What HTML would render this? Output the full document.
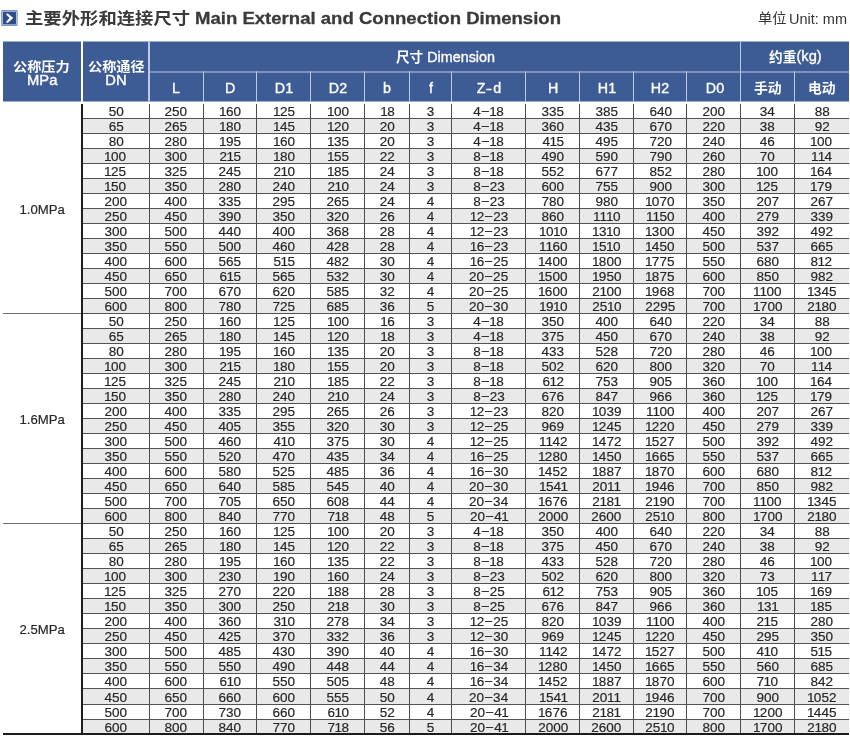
<!DOCTYPE html><html lang="zh"><head><meta charset="utf-8"><title>主要外形和连接尺寸 Main External and Connection Dimension</title>
<style>
html,body{margin:0;padding:0;background:#fff;}
body{will-change:transform;width:850px;height:745px;position:relative;overflow:hidden;font-family:"Liberation Sans",sans-serif;color:#262626;}
.cjk{position:absolute;display:block;overflow:visible;}
.cjk text{font-family:"Liberation Sans","Noto Sans CJK SC",sans-serif;}
.sx{display:inline-block;transform-origin:50% 50%;white-space:nowrap;}
/* title */
.icon{position:absolute;left:1px;top:10px;width:17px;height:16px;}
.ttl{position:absolute;left:195.2px;top:8.2px;height:20px;line-height:20px;font-size:17.4px;font-weight:bold;color:#3a3a3a;-webkit-text-stroke:.3px #3a3a3a;white-space:nowrap;transform-origin:0 50%;transform:scaleX(1.067);}
.unit{position:absolute;left:789.3px;top:9.6px;height:18px;line-height:18px;font-size:14px;color:#333;white-space:nowrap;transform-origin:0 50%;transform:scaleX(1.035);}
/* header */
.hd{position:absolute;left:0;top:0;width:850px;height:102px;transform:translateY(.5px);}
.hc{position:absolute;background:#3d5b94;color:#fff;text-align:center;font-size:14px;white-space:nowrap;}
.hc .sx{transform:scaleX(1.07);}
.hline{position:absolute;background:#bccae6;}
/* body table */
table.bd{position:absolute;left:3px;top:104px;border-collapse:collapse;table-layout:fixed;width:846px;border-bottom:2px solid #1c1c1c;}
table.bd td{height:14px;padding:0;border-bottom:1px solid #525252;border-left:1px solid #4c4c4c;text-align:center;font-size:12.9px;-webkit-text-stroke:.18px #262626;line-height:14px;overflow:hidden;white-space:nowrap;}
table.bd tr:nth-child(40) td{height:15px;line-height:15px}
table.bd tr:last-child td{border-bottom:none;height:13px;line-height:13px}
table.bd tr.g td{background:#e9e9ea;}
table.bd td.p{background:#fff !important;border-left:none;font-size:12.9px;border-bottom-color:#707070;}
table.bd td.dn{border-left:2px solid #1e1e1e;}
table.bd td .sx{transform:scaleX(1.05);position:relative;top:.6px;}
table.bd td.p .sx{transform:scaleX(1.02);top:1.3px;left:.2px}
table.bd i{font-style:normal;margin:0 -.55px 0 -.4px;}
.d{display:inline-block;transform:scaleX(.95);margin:0 .7px 0 .7px;position:relative;top:-.7px;}
table.bd td.c2 .sx{left:0.3px}
table.bd td.c3 .sx{left:1.15px}
table.bd td.c4 .sx{left:0.9px}
table.bd td.c5 .sx{left:1.1px}
table.bd td.c6 .sx{left:1.05px}
table.bd td.c7 .sx{left:0.8px}
table.bd td.c8 .sx{left:1.05px}
table.bd td.c9 .sx{left:0.75px}
table.bd td.c10 .sx{left:0.8px}
table.bd td.c11 .sx{left:0.6px}
table.bd td.c12 .sx{left:0.4px}
</style></head><body>
<svg class="icon" viewBox="0 0 17 16" role="img" aria-label="arrow"><rect x="0.2" y="0.1" width="16.4" height="15.9" rx="1.3" fill="#6a85b9"/><rect x="0.9" y="0.8" width="15" height="14.5" rx="0.8" fill="#b3c4e5"/><rect x="1.9" y="1.8" width="13.1" height="12.5" fill="#2c4c8e"/><path d="M4.9 4.3L6.6 3.3L12.3 8.1L6.6 13L4.9 12L8.6 8.1Z" fill="#fff"/></svg>
<svg class="cjk " role="img" aria-label="主要外形和连接尺寸" style="left:24.9px;top:9.8px" width="165.2" height="16.2" viewBox="0 -880 9000 1000" preserveAspectRatio="none"><title>主要外形和连接尺寸</title><text x="0" y="0" font-size="1000" font-weight="bold" fill="#3a3a3a" textLength="9000" lengthAdjust="spacingAndGlyphs">主要外形和连接尺寸</text></svg>
<div class="ttl">Main External and Connection Dimension</div>
<svg class="cjk " role="img" aria-label="单位" style="left:757.7px;top:10.7px" width="28.6" height="13.7" viewBox="0 -880 2000 1000" preserveAspectRatio="none"><title>单位</title><text x="0" y="0" font-size="1000" fill="#333" textLength="2000" lengthAdjust="spacingAndGlyphs">单位</text></svg>
<div class="unit">Unit: mm</div>
<div class="hd">
<div class="hc" style="left:3px;top:41px;width:78px;height:60px"></div>
<div class="hc" style="left:83px;top:41px;width:765.6px;height:60px"></div>
<div class="hline" style="left:148px;top:41px;width:2px;height:60px"></div>
<div class="hline" style="left:149px;top:71px;width:699.6px;height:1px"></div>
<div class="hline" style="left:203px;top:71px;width:1px;height:30px"></div>
<div class="hline" style="left:256px;top:71px;width:1px;height:30px"></div>
<div class="hline" style="left:310px;top:71px;width:1px;height:30px"></div>
<div class="hline" style="left:364px;top:71px;width:1px;height:30px"></div>
<div class="hline" style="left:409px;top:71px;width:1px;height:30px"></div>
<div class="hline" style="left:451px;top:71px;width:1px;height:30px"></div>
<div class="hline" style="left:525px;top:71px;width:1px;height:30px"></div>
<div class="hline" style="left:579px;top:71px;width:1px;height:30px"></div>
<div class="hline" style="left:633px;top:71px;width:1px;height:30px"></div>
<div class="hline" style="left:686px;top:71px;width:1px;height:30px"></div>
<div class="hline" style="left:740px;top:41px;width:1px;height:60px"></div>
<div class="hline" style="left:794px;top:71px;width:1px;height:30px"></div>
<svg class="cjk " role="img" aria-label="公称压力" style="left:13.3px;top:58.9px" width="56.6" height="12.8" viewBox="0 -880 4000 1000" preserveAspectRatio="none"><title>公称压力</title><text x="0" y="0" font-size="1000" font-weight="bold" fill="#fff" textLength="4000" lengthAdjust="spacingAndGlyphs">公称压力</text></svg>
<div class="hl" style="position:absolute;left:-17.9px;width:120px;top:70.0px;height:20px;line-height:20px;text-align:center;color:#fff;font-size:13.8px;white-space:nowrap;-webkit-text-stroke:.35px #fff"><span class="sx" style="transform:scaleX(1.07)">MPa</span></div>
<svg class="cjk " role="img" aria-label="公称通径" style="left:87.9px;top:58.9px" width="56.6" height="12.8" viewBox="0 -880 4000 1000" preserveAspectRatio="none"><title>公称通径</title><text x="0" y="0" font-size="1000" font-weight="bold" fill="#fff" textLength="4000" lengthAdjust="spacingAndGlyphs">公称通径</text></svg>
<div class="hl" style="position:absolute;left:56.099999999999994px;width:120px;top:70.0px;height:20px;line-height:20px;text-align:center;color:#fff;font-size:13.8px;white-space:nowrap;-webkit-text-stroke:.35px #fff"><span class="sx" style="transform:scaleX(1.07)">DN</span></div>
<svg class="cjk " role="img" aria-label="尺寸" style="left:396.2px;top:49.7px" width="27.2" height="13.2" viewBox="0 -880 2000 1000" preserveAspectRatio="none"><title>尺寸</title><text x="0" y="0" font-size="1000" font-weight="bold" fill="#fff" textLength="2000" lengthAdjust="spacingAndGlyphs">尺寸</text></svg>
<div class="hl" style="position:absolute;left:400.7px;width:120px;top:46.3px;height:20px;line-height:20px;text-align:center;color:#fff;font-size:14px;white-space:nowrap;-webkit-text-stroke:.35px #fff"><span class="sx" style="transform:scaleX(1.025)">Dimension</span></div>
<svg class="cjk " role="img" aria-label="约重" style="left:768.8px;top:49.6px" width="27.4" height="13.1" viewBox="0 -880 2000 1000" preserveAspectRatio="none"><title>约重</title><text x="0" y="0" font-size="1000" font-weight="bold" fill="#fff" textLength="2000" lengthAdjust="spacingAndGlyphs">约重</text></svg>
<div class="hl" style="position:absolute;left:748.8px;width:120px;top:45.4px;height:20px;line-height:20px;text-align:center;color:#fff;font-size:14px;white-space:nowrap;-webkit-text-stroke:.35px #fff"><span class="sx" style="transform:scaleX(1.04)">(kg)</span></div>
<div class="hl" style="position:absolute;left:115.9px;width:120px;top:76.8px;height:20px;line-height:20px;text-align:center;color:#fff;font-size:14px;white-space:nowrap;-webkit-text-stroke:.35px #fff"><span class="sx" style="transform:scaleX(1.02)">L</span></div>
<div class="hl" style="position:absolute;left:170.1px;width:120px;top:76.8px;height:20px;line-height:20px;text-align:center;color:#fff;font-size:14px;white-space:nowrap;-webkit-text-stroke:.35px #fff"><span class="sx" style="transform:scaleX(1.02)">D</span></div>
<div class="hl" style="position:absolute;left:224.35000000000002px;width:120px;top:76.8px;height:20px;line-height:20px;text-align:center;color:#fff;font-size:14px;white-space:nowrap;-webkit-text-stroke:.35px #fff"><span class="sx" style="transform:scaleX(1.02)">D1</span></div>
<div class="hl" style="position:absolute;left:278.35px;width:120px;top:76.8px;height:20px;line-height:20px;text-align:center;color:#fff;font-size:14px;white-space:nowrap;-webkit-text-stroke:.35px #fff"><span class="sx" style="transform:scaleX(1.02)">D2</span></div>
<div class="hl" style="position:absolute;left:327.35px;width:120px;top:76.8px;height:20px;line-height:20px;text-align:center;color:#fff;font-size:14px;white-space:nowrap;-webkit-text-stroke:.35px #fff"><span class="sx" style="transform:scaleX(1.02)">b</span></div>
<div class="hl" style="position:absolute;left:370.5px;width:120px;top:76.8px;height:20px;line-height:20px;text-align:center;color:#fff;font-size:14px;white-space:nowrap;-webkit-text-stroke:.35px #fff"><span class="sx" style="transform:scaleX(1.02)">f</span></div>
<div class="hl" style="position:absolute;left:428.8px;width:120px;top:76.8px;height:20px;line-height:20px;text-align:center;color:#fff;font-size:14px;white-space:nowrap;-webkit-text-stroke:.35px #fff"><span class="sx" style="transform:scaleX(1.02)">Z<span class="d" style="transform:scaleX(.6);margin:0 -.2px 0 -.1px;top:-.3px">–</span>d</span></div>
<div class="hl" style="position:absolute;left:493.29999999999995px;width:120px;top:76.8px;height:20px;line-height:20px;text-align:center;color:#fff;font-size:14px;white-space:nowrap;-webkit-text-stroke:.35px #fff"><span class="sx" style="transform:scaleX(1.02)">H</span></div>
<div class="hl" style="position:absolute;left:547.25px;width:120px;top:76.8px;height:20px;line-height:20px;text-align:center;color:#fff;font-size:14px;white-space:nowrap;-webkit-text-stroke:.35px #fff"><span class="sx" style="transform:scaleX(1.02)">H1</span></div>
<div class="hl" style="position:absolute;left:599.9px;width:120px;top:76.8px;height:20px;line-height:20px;text-align:center;color:#fff;font-size:14px;white-space:nowrap;-webkit-text-stroke:.35px #fff"><span class="sx" style="transform:scaleX(1.02)">H2</span></div>
<div class="hl" style="position:absolute;left:655.0px;width:120px;top:76.8px;height:20px;line-height:20px;text-align:center;color:#fff;font-size:14px;white-space:nowrap;-webkit-text-stroke:.35px #fff"><span class="sx" style="transform:scaleX(1.02)">D0</span></div>
<svg class="cjk " role="img" aria-label="手动" style="left:753.6px;top:79.7px" width="27.6" height="13.8" viewBox="0 -880 2000 1000" preserveAspectRatio="none"><title>手动</title><text x="0" y="0" font-size="1000" font-weight="bold" fill="#fff" textLength="2000" lengthAdjust="spacingAndGlyphs">手动</text></svg>
<svg class="cjk " role="img" aria-label="电动" style="left:807.6px;top:79.7px" width="27.6" height="13.8" viewBox="0 -880 2000 1000" preserveAspectRatio="none"><title>电动</title><text x="0" y="0" font-size="1000" font-weight="bold" fill="#fff" textLength="2000" lengthAdjust="spacingAndGlyphs">电动</text></svg>
</div>
<table class="bd"><colgroup><col style="width:79px"><col style="width:67px"><col style="width:54px"><col style="width:53px"><col style="width:54px"><col style="width:54px"><col style="width:45px"><col style="width:42px"><col style="width:74px"><col style="width:54px"><col style="width:54px"><col style="width:53px"><col style="width:54px"><col style="width:54px"><col style="width:55px"></colgroup><tbody>
<tr class=""><td class="p" rowspan="14"><span class="sx">1.0MPa</span></td><td class="c0 dn"><span class="sx">50</span></td><td class="c1"><span class="sx">250</span></td><td class="c2"><span class="sx"><i>1</i>60</span></td><td class="c3"><span class="sx"><i>1</i>25</span></td><td class="c4"><span class="sx"><i>1</i>00</span></td><td class="c5"><span class="sx"><i>1</i>8</span></td><td class="c6"><span class="sx">3</span></td><td class="c7"><span class="sx">4<span class="d">–</span><i>1</i>8</span></td><td class="c8"><span class="sx">335</span></td><td class="c9"><span class="sx">385</span></td><td class="c10"><span class="sx">640</span></td><td class="c11"><span class="sx">200</span></td><td class="c12"><span class="sx">34</span></td><td class="c13"><span class="sx">88</span></td></tr>
<tr class="g"><td class="c0 dn"><span class="sx">65</span></td><td class="c1"><span class="sx">265</span></td><td class="c2"><span class="sx"><i>1</i>80</span></td><td class="c3"><span class="sx"><i>1</i>45</span></td><td class="c4"><span class="sx"><i>1</i>20</span></td><td class="c5"><span class="sx">20</span></td><td class="c6"><span class="sx">3</span></td><td class="c7"><span class="sx">4<span class="d">–</span><i>1</i>8</span></td><td class="c8"><span class="sx">360</span></td><td class="c9"><span class="sx">435</span></td><td class="c10"><span class="sx">670</span></td><td class="c11"><span class="sx">220</span></td><td class="c12"><span class="sx">38</span></td><td class="c13"><span class="sx">92</span></td></tr>
<tr class=""><td class="c0 dn"><span class="sx">80</span></td><td class="c1"><span class="sx">280</span></td><td class="c2"><span class="sx"><i>1</i>95</span></td><td class="c3"><span class="sx"><i>1</i>60</span></td><td class="c4"><span class="sx"><i>1</i>35</span></td><td class="c5"><span class="sx">20</span></td><td class="c6"><span class="sx">3</span></td><td class="c7"><span class="sx">4<span class="d">–</span><i>1</i>8</span></td><td class="c8"><span class="sx">4<i>1</i>5</span></td><td class="c9"><span class="sx">495</span></td><td class="c10"><span class="sx">720</span></td><td class="c11"><span class="sx">240</span></td><td class="c12"><span class="sx">46</span></td><td class="c13"><span class="sx"><i>1</i>00</span></td></tr>
<tr class="g"><td class="c0 dn"><span class="sx"><i>1</i>00</span></td><td class="c1"><span class="sx">300</span></td><td class="c2"><span class="sx">2<i>1</i>5</span></td><td class="c3"><span class="sx"><i>1</i>80</span></td><td class="c4"><span class="sx"><i>1</i>55</span></td><td class="c5"><span class="sx">22</span></td><td class="c6"><span class="sx">3</span></td><td class="c7"><span class="sx">8<span class="d">–</span><i>1</i>8</span></td><td class="c8"><span class="sx">490</span></td><td class="c9"><span class="sx">590</span></td><td class="c10"><span class="sx">790</span></td><td class="c11"><span class="sx">260</span></td><td class="c12"><span class="sx">70</span></td><td class="c13"><span class="sx"><i>1</i><i>1</i>4</span></td></tr>
<tr class=""><td class="c0 dn"><span class="sx"><i>1</i>25</span></td><td class="c1"><span class="sx">325</span></td><td class="c2"><span class="sx">245</span></td><td class="c3"><span class="sx">2<i>1</i>0</span></td><td class="c4"><span class="sx"><i>1</i>85</span></td><td class="c5"><span class="sx">24</span></td><td class="c6"><span class="sx">3</span></td><td class="c7"><span class="sx">8<span class="d">–</span><i>1</i>8</span></td><td class="c8"><span class="sx">552</span></td><td class="c9"><span class="sx">677</span></td><td class="c10"><span class="sx">852</span></td><td class="c11"><span class="sx">280</span></td><td class="c12"><span class="sx"><i>1</i>00</span></td><td class="c13"><span class="sx"><i>1</i>64</span></td></tr>
<tr class="g"><td class="c0 dn"><span class="sx"><i>1</i>50</span></td><td class="c1"><span class="sx">350</span></td><td class="c2"><span class="sx">280</span></td><td class="c3"><span class="sx">240</span></td><td class="c4"><span class="sx">2<i>1</i>0</span></td><td class="c5"><span class="sx">24</span></td><td class="c6"><span class="sx">3</span></td><td class="c7"><span class="sx">8<span class="d">–</span>23</span></td><td class="c8"><span class="sx">600</span></td><td class="c9"><span class="sx">755</span></td><td class="c10"><span class="sx">900</span></td><td class="c11"><span class="sx">300</span></td><td class="c12"><span class="sx"><i>1</i>25</span></td><td class="c13"><span class="sx"><i>1</i>79</span></td></tr>
<tr class=""><td class="c0 dn"><span class="sx">200</span></td><td class="c1"><span class="sx">400</span></td><td class="c2"><span class="sx">335</span></td><td class="c3"><span class="sx">295</span></td><td class="c4"><span class="sx">265</span></td><td class="c5"><span class="sx">24</span></td><td class="c6"><span class="sx">4</span></td><td class="c7"><span class="sx">8<span class="d">–</span>23</span></td><td class="c8"><span class="sx">780</span></td><td class="c9"><span class="sx">980</span></td><td class="c10"><span class="sx"><i>1</i>070</span></td><td class="c11"><span class="sx">350</span></td><td class="c12"><span class="sx">207</span></td><td class="c13"><span class="sx">267</span></td></tr>
<tr class="g"><td class="c0 dn"><span class="sx">250</span></td><td class="c1"><span class="sx">450</span></td><td class="c2"><span class="sx">390</span></td><td class="c3"><span class="sx">350</span></td><td class="c4"><span class="sx">320</span></td><td class="c5"><span class="sx">26</span></td><td class="c6"><span class="sx">4</span></td><td class="c7"><span class="sx"><i>1</i>2<span class="d">–</span>23</span></td><td class="c8"><span class="sx">860</span></td><td class="c9"><span class="sx"><i>1</i><i>1</i><i>1</i>0</span></td><td class="c10"><span class="sx"><i>1</i><i>1</i>50</span></td><td class="c11"><span class="sx">400</span></td><td class="c12"><span class="sx">279</span></td><td class="c13"><span class="sx">339</span></td></tr>
<tr class=""><td class="c0 dn"><span class="sx">300</span></td><td class="c1"><span class="sx">500</span></td><td class="c2"><span class="sx">440</span></td><td class="c3"><span class="sx">400</span></td><td class="c4"><span class="sx">368</span></td><td class="c5"><span class="sx">28</span></td><td class="c6"><span class="sx">4</span></td><td class="c7"><span class="sx"><i>1</i>2<span class="d">–</span>23</span></td><td class="c8"><span class="sx"><i>1</i>0<i>1</i>0</span></td><td class="c9"><span class="sx"><i>1</i>3<i>1</i>0</span></td><td class="c10"><span class="sx"><i>1</i>300</span></td><td class="c11"><span class="sx">450</span></td><td class="c12"><span class="sx">392</span></td><td class="c13"><span class="sx">492</span></td></tr>
<tr class="g"><td class="c0 dn"><span class="sx">350</span></td><td class="c1"><span class="sx">550</span></td><td class="c2"><span class="sx">500</span></td><td class="c3"><span class="sx">460</span></td><td class="c4"><span class="sx">428</span></td><td class="c5"><span class="sx">28</span></td><td class="c6"><span class="sx">4</span></td><td class="c7"><span class="sx"><i>1</i>6<span class="d">–</span>23</span></td><td class="c8"><span class="sx"><i>1</i><i>1</i>60</span></td><td class="c9"><span class="sx"><i>1</i>5<i>1</i>0</span></td><td class="c10"><span class="sx"><i>1</i>450</span></td><td class="c11"><span class="sx">500</span></td><td class="c12"><span class="sx">537</span></td><td class="c13"><span class="sx">665</span></td></tr>
<tr class=""><td class="c0 dn"><span class="sx">400</span></td><td class="c1"><span class="sx">600</span></td><td class="c2"><span class="sx">565</span></td><td class="c3"><span class="sx">5<i>1</i>5</span></td><td class="c4"><span class="sx">482</span></td><td class="c5"><span class="sx">30</span></td><td class="c6"><span class="sx">4</span></td><td class="c7"><span class="sx"><i>1</i>6<span class="d">–</span>25</span></td><td class="c8"><span class="sx"><i>1</i>400</span></td><td class="c9"><span class="sx"><i>1</i>800</span></td><td class="c10"><span class="sx"><i>1</i>775</span></td><td class="c11"><span class="sx">550</span></td><td class="c12"><span class="sx">680</span></td><td class="c13"><span class="sx">8<i>1</i>2</span></td></tr>
<tr class="g"><td class="c0 dn"><span class="sx">450</span></td><td class="c1"><span class="sx">650</span></td><td class="c2"><span class="sx">6<i>1</i>5</span></td><td class="c3"><span class="sx">565</span></td><td class="c4"><span class="sx">532</span></td><td class="c5"><span class="sx">30</span></td><td class="c6"><span class="sx">4</span></td><td class="c7"><span class="sx">20<span class="d">–</span>25</span></td><td class="c8"><span class="sx"><i>1</i>500</span></td><td class="c9"><span class="sx"><i>1</i>950</span></td><td class="c10"><span class="sx"><i>1</i>875</span></td><td class="c11"><span class="sx">600</span></td><td class="c12"><span class="sx">850</span></td><td class="c13"><span class="sx">982</span></td></tr>
<tr class=""><td class="c0 dn"><span class="sx">500</span></td><td class="c1"><span class="sx">700</span></td><td class="c2"><span class="sx">670</span></td><td class="c3"><span class="sx">620</span></td><td class="c4"><span class="sx">585</span></td><td class="c5"><span class="sx">32</span></td><td class="c6"><span class="sx">4</span></td><td class="c7"><span class="sx">20<span class="d">–</span>25</span></td><td class="c8"><span class="sx"><i>1</i>600</span></td><td class="c9"><span class="sx">2<i>1</i>00</span></td><td class="c10"><span class="sx"><i>1</i>968</span></td><td class="c11"><span class="sx">700</span></td><td class="c12"><span class="sx"><i>1</i><i>1</i>00</span></td><td class="c13"><span class="sx"><i>1</i>345</span></td></tr>
<tr class="g"><td class="c0 dn"><span class="sx">600</span></td><td class="c1"><span class="sx">800</span></td><td class="c2"><span class="sx">780</span></td><td class="c3"><span class="sx">725</span></td><td class="c4"><span class="sx">685</span></td><td class="c5"><span class="sx">36</span></td><td class="c6"><span class="sx">5</span></td><td class="c7"><span class="sx">20<span class="d">–</span>30</span></td><td class="c8"><span class="sx"><i>1</i>9<i>1</i>0</span></td><td class="c9"><span class="sx">25<i>1</i>0</span></td><td class="c10"><span class="sx">2295</span></td><td class="c11"><span class="sx">700</span></td><td class="c12"><span class="sx"><i>1</i>700</span></td><td class="c13"><span class="sx">2<i>1</i>80</span></td></tr>
<tr class=""><td class="p" rowspan="14"><span class="sx">1.6MPa</span></td><td class="c0 dn"><span class="sx">50</span></td><td class="c1"><span class="sx">250</span></td><td class="c2"><span class="sx"><i>1</i>60</span></td><td class="c3"><span class="sx"><i>1</i>25</span></td><td class="c4"><span class="sx"><i>1</i>00</span></td><td class="c5"><span class="sx"><i>1</i>6</span></td><td class="c6"><span class="sx">3</span></td><td class="c7"><span class="sx">4<span class="d">–</span><i>1</i>8</span></td><td class="c8"><span class="sx">350</span></td><td class="c9"><span class="sx">400</span></td><td class="c10"><span class="sx">640</span></td><td class="c11"><span class="sx">220</span></td><td class="c12"><span class="sx">34</span></td><td class="c13"><span class="sx">88</span></td></tr>
<tr class="g"><td class="c0 dn"><span class="sx">65</span></td><td class="c1"><span class="sx">265</span></td><td class="c2"><span class="sx"><i>1</i>80</span></td><td class="c3"><span class="sx"><i>1</i>45</span></td><td class="c4"><span class="sx"><i>1</i>20</span></td><td class="c5"><span class="sx"><i>1</i>8</span></td><td class="c6"><span class="sx">3</span></td><td class="c7"><span class="sx">4<span class="d">–</span><i>1</i>8</span></td><td class="c8"><span class="sx">375</span></td><td class="c9"><span class="sx">450</span></td><td class="c10"><span class="sx">670</span></td><td class="c11"><span class="sx">240</span></td><td class="c12"><span class="sx">38</span></td><td class="c13"><span class="sx">92</span></td></tr>
<tr class=""><td class="c0 dn"><span class="sx">80</span></td><td class="c1"><span class="sx">280</span></td><td class="c2"><span class="sx"><i>1</i>95</span></td><td class="c3"><span class="sx"><i>1</i>60</span></td><td class="c4"><span class="sx"><i>1</i>35</span></td><td class="c5"><span class="sx">20</span></td><td class="c6"><span class="sx">3</span></td><td class="c7"><span class="sx">8<span class="d">–</span><i>1</i>8</span></td><td class="c8"><span class="sx">433</span></td><td class="c9"><span class="sx">528</span></td><td class="c10"><span class="sx">720</span></td><td class="c11"><span class="sx">280</span></td><td class="c12"><span class="sx">46</span></td><td class="c13"><span class="sx"><i>1</i>00</span></td></tr>
<tr class="g"><td class="c0 dn"><span class="sx"><i>1</i>00</span></td><td class="c1"><span class="sx">300</span></td><td class="c2"><span class="sx">2<i>1</i>5</span></td><td class="c3"><span class="sx"><i>1</i>80</span></td><td class="c4"><span class="sx"><i>1</i>55</span></td><td class="c5"><span class="sx">20</span></td><td class="c6"><span class="sx">3</span></td><td class="c7"><span class="sx">8<span class="d">–</span><i>1</i>8</span></td><td class="c8"><span class="sx">502</span></td><td class="c9"><span class="sx">620</span></td><td class="c10"><span class="sx">800</span></td><td class="c11"><span class="sx">320</span></td><td class="c12"><span class="sx">70</span></td><td class="c13"><span class="sx"><i>1</i><i>1</i>4</span></td></tr>
<tr class=""><td class="c0 dn"><span class="sx"><i>1</i>25</span></td><td class="c1"><span class="sx">325</span></td><td class="c2"><span class="sx">245</span></td><td class="c3"><span class="sx">2<i>1</i>0</span></td><td class="c4"><span class="sx"><i>1</i>85</span></td><td class="c5"><span class="sx">22</span></td><td class="c6"><span class="sx">3</span></td><td class="c7"><span class="sx">8<span class="d">–</span><i>1</i>8</span></td><td class="c8"><span class="sx">6<i>1</i>2</span></td><td class="c9"><span class="sx">753</span></td><td class="c10"><span class="sx">905</span></td><td class="c11"><span class="sx">360</span></td><td class="c12"><span class="sx"><i>1</i>00</span></td><td class="c13"><span class="sx"><i>1</i>64</span></td></tr>
<tr class="g"><td class="c0 dn"><span class="sx"><i>1</i>50</span></td><td class="c1"><span class="sx">350</span></td><td class="c2"><span class="sx">280</span></td><td class="c3"><span class="sx">240</span></td><td class="c4"><span class="sx">2<i>1</i>0</span></td><td class="c5"><span class="sx">24</span></td><td class="c6"><span class="sx">3</span></td><td class="c7"><span class="sx">8<span class="d">–</span>23</span></td><td class="c8"><span class="sx">676</span></td><td class="c9"><span class="sx">847</span></td><td class="c10"><span class="sx">966</span></td><td class="c11"><span class="sx">360</span></td><td class="c12"><span class="sx"><i>1</i>25</span></td><td class="c13"><span class="sx"><i>1</i>79</span></td></tr>
<tr class=""><td class="c0 dn"><span class="sx">200</span></td><td class="c1"><span class="sx">400</span></td><td class="c2"><span class="sx">335</span></td><td class="c3"><span class="sx">295</span></td><td class="c4"><span class="sx">265</span></td><td class="c5"><span class="sx">26</span></td><td class="c6"><span class="sx">3</span></td><td class="c7"><span class="sx"><i>1</i>2<span class="d">–</span>23</span></td><td class="c8"><span class="sx">820</span></td><td class="c9"><span class="sx"><i>1</i>039</span></td><td class="c10"><span class="sx"><i>1</i><i>1</i>00</span></td><td class="c11"><span class="sx">400</span></td><td class="c12"><span class="sx">207</span></td><td class="c13"><span class="sx">267</span></td></tr>
<tr class="g"><td class="c0 dn"><span class="sx">250</span></td><td class="c1"><span class="sx">450</span></td><td class="c2"><span class="sx">405</span></td><td class="c3"><span class="sx">355</span></td><td class="c4"><span class="sx">320</span></td><td class="c5"><span class="sx">30</span></td><td class="c6"><span class="sx">3</span></td><td class="c7"><span class="sx"><i>1</i>2<span class="d">–</span>25</span></td><td class="c8"><span class="sx">969</span></td><td class="c9"><span class="sx"><i>1</i>245</span></td><td class="c10"><span class="sx"><i>1</i>220</span></td><td class="c11"><span class="sx">450</span></td><td class="c12"><span class="sx">279</span></td><td class="c13"><span class="sx">339</span></td></tr>
<tr class=""><td class="c0 dn"><span class="sx">300</span></td><td class="c1"><span class="sx">500</span></td><td class="c2"><span class="sx">460</span></td><td class="c3"><span class="sx">4<i>1</i>0</span></td><td class="c4"><span class="sx">375</span></td><td class="c5"><span class="sx">30</span></td><td class="c6"><span class="sx">4</span></td><td class="c7"><span class="sx"><i>1</i>2<span class="d">–</span>25</span></td><td class="c8"><span class="sx"><i>1</i><i>1</i>42</span></td><td class="c9"><span class="sx"><i>1</i>472</span></td><td class="c10"><span class="sx"><i>1</i>527</span></td><td class="c11"><span class="sx">500</span></td><td class="c12"><span class="sx">392</span></td><td class="c13"><span class="sx">492</span></td></tr>
<tr class="g"><td class="c0 dn"><span class="sx">350</span></td><td class="c1"><span class="sx">550</span></td><td class="c2"><span class="sx">520</span></td><td class="c3"><span class="sx">470</span></td><td class="c4"><span class="sx">435</span></td><td class="c5"><span class="sx">34</span></td><td class="c6"><span class="sx">4</span></td><td class="c7"><span class="sx"><i>1</i>6<span class="d">–</span>25</span></td><td class="c8"><span class="sx"><i>1</i>280</span></td><td class="c9"><span class="sx"><i>1</i>450</span></td><td class="c10"><span class="sx"><i>1</i>665</span></td><td class="c11"><span class="sx">550</span></td><td class="c12"><span class="sx">537</span></td><td class="c13"><span class="sx">665</span></td></tr>
<tr class=""><td class="c0 dn"><span class="sx">400</span></td><td class="c1"><span class="sx">600</span></td><td class="c2"><span class="sx">580</span></td><td class="c3"><span class="sx">525</span></td><td class="c4"><span class="sx">485</span></td><td class="c5"><span class="sx">36</span></td><td class="c6"><span class="sx">4</span></td><td class="c7"><span class="sx"><i>1</i>6<span class="d">–</span>30</span></td><td class="c8"><span class="sx"><i>1</i>452</span></td><td class="c9"><span class="sx"><i>1</i>887</span></td><td class="c10"><span class="sx"><i>1</i>870</span></td><td class="c11"><span class="sx">600</span></td><td class="c12"><span class="sx">680</span></td><td class="c13"><span class="sx">8<i>1</i>2</span></td></tr>
<tr class="g"><td class="c0 dn"><span class="sx">450</span></td><td class="c1"><span class="sx">650</span></td><td class="c2"><span class="sx">640</span></td><td class="c3"><span class="sx">585</span></td><td class="c4"><span class="sx">545</span></td><td class="c5"><span class="sx">40</span></td><td class="c6"><span class="sx">4</span></td><td class="c7"><span class="sx">20<span class="d">–</span>30</span></td><td class="c8"><span class="sx"><i>1</i>54<i>1</i></span></td><td class="c9"><span class="sx">20<i>1</i><i>1</i></span></td><td class="c10"><span class="sx"><i>1</i>946</span></td><td class="c11"><span class="sx">700</span></td><td class="c12"><span class="sx">850</span></td><td class="c13"><span class="sx">982</span></td></tr>
<tr class=""><td class="c0 dn"><span class="sx">500</span></td><td class="c1"><span class="sx">700</span></td><td class="c2"><span class="sx">705</span></td><td class="c3"><span class="sx">650</span></td><td class="c4"><span class="sx">608</span></td><td class="c5"><span class="sx">44</span></td><td class="c6"><span class="sx">4</span></td><td class="c7"><span class="sx">20<span class="d">–</span>34</span></td><td class="c8"><span class="sx"><i>1</i>676</span></td><td class="c9"><span class="sx">2<i>1</i>8<i>1</i></span></td><td class="c10"><span class="sx">2<i>1</i>90</span></td><td class="c11"><span class="sx">700</span></td><td class="c12"><span class="sx"><i>1</i><i>1</i>00</span></td><td class="c13"><span class="sx"><i>1</i>345</span></td></tr>
<tr class="g"><td class="c0 dn"><span class="sx">600</span></td><td class="c1"><span class="sx">800</span></td><td class="c2"><span class="sx">840</span></td><td class="c3"><span class="sx">770</span></td><td class="c4"><span class="sx">7<i>1</i>8</span></td><td class="c5"><span class="sx">48</span></td><td class="c6"><span class="sx">5</span></td><td class="c7"><span class="sx">20<span class="d">–</span>4<i>1</i></span></td><td class="c8"><span class="sx">2000</span></td><td class="c9"><span class="sx">2600</span></td><td class="c10"><span class="sx">25<i>1</i>0</span></td><td class="c11"><span class="sx">800</span></td><td class="c12"><span class="sx"><i>1</i>700</span></td><td class="c13"><span class="sx">2<i>1</i>80</span></td></tr>
<tr class=""><td class="p" rowspan="14"><span class="sx">2.5MPa</span></td><td class="c0 dn"><span class="sx">50</span></td><td class="c1"><span class="sx">250</span></td><td class="c2"><span class="sx"><i>1</i>60</span></td><td class="c3"><span class="sx"><i>1</i>25</span></td><td class="c4"><span class="sx"><i>1</i>00</span></td><td class="c5"><span class="sx">20</span></td><td class="c6"><span class="sx">3</span></td><td class="c7"><span class="sx">4<span class="d">–</span><i>1</i>8</span></td><td class="c8"><span class="sx">350</span></td><td class="c9"><span class="sx">400</span></td><td class="c10"><span class="sx">640</span></td><td class="c11"><span class="sx">220</span></td><td class="c12"><span class="sx">34</span></td><td class="c13"><span class="sx">88</span></td></tr>
<tr class="g"><td class="c0 dn"><span class="sx">65</span></td><td class="c1"><span class="sx">265</span></td><td class="c2"><span class="sx"><i>1</i>80</span></td><td class="c3"><span class="sx"><i>1</i>45</span></td><td class="c4"><span class="sx"><i>1</i>20</span></td><td class="c5"><span class="sx">22</span></td><td class="c6"><span class="sx">3</span></td><td class="c7"><span class="sx">8<span class="d">–</span><i>1</i>8</span></td><td class="c8"><span class="sx">375</span></td><td class="c9"><span class="sx">450</span></td><td class="c10"><span class="sx">670</span></td><td class="c11"><span class="sx">240</span></td><td class="c12"><span class="sx">38</span></td><td class="c13"><span class="sx">92</span></td></tr>
<tr class=""><td class="c0 dn"><span class="sx">80</span></td><td class="c1"><span class="sx">280</span></td><td class="c2"><span class="sx"><i>1</i>95</span></td><td class="c3"><span class="sx"><i>1</i>60</span></td><td class="c4"><span class="sx"><i>1</i>35</span></td><td class="c5"><span class="sx">22</span></td><td class="c6"><span class="sx">3</span></td><td class="c7"><span class="sx">8<span class="d">–</span><i>1</i>8</span></td><td class="c8"><span class="sx">433</span></td><td class="c9"><span class="sx">528</span></td><td class="c10"><span class="sx">720</span></td><td class="c11"><span class="sx">280</span></td><td class="c12"><span class="sx">46</span></td><td class="c13"><span class="sx"><i>1</i>00</span></td></tr>
<tr class="g"><td class="c0 dn"><span class="sx"><i>1</i>00</span></td><td class="c1"><span class="sx">300</span></td><td class="c2"><span class="sx">230</span></td><td class="c3"><span class="sx"><i>1</i>90</span></td><td class="c4"><span class="sx"><i>1</i>60</span></td><td class="c5"><span class="sx">24</span></td><td class="c6"><span class="sx">3</span></td><td class="c7"><span class="sx">8<span class="d">–</span>23</span></td><td class="c8"><span class="sx">502</span></td><td class="c9"><span class="sx">620</span></td><td class="c10"><span class="sx">800</span></td><td class="c11"><span class="sx">320</span></td><td class="c12"><span class="sx">73</span></td><td class="c13"><span class="sx"><i>1</i><i>1</i>7</span></td></tr>
<tr class=""><td class="c0 dn"><span class="sx"><i>1</i>25</span></td><td class="c1"><span class="sx">325</span></td><td class="c2"><span class="sx">270</span></td><td class="c3"><span class="sx">220</span></td><td class="c4"><span class="sx"><i>1</i>88</span></td><td class="c5"><span class="sx">28</span></td><td class="c6"><span class="sx">3</span></td><td class="c7"><span class="sx">8<span class="d">–</span>25</span></td><td class="c8"><span class="sx">6<i>1</i>2</span></td><td class="c9"><span class="sx">753</span></td><td class="c10"><span class="sx">905</span></td><td class="c11"><span class="sx">360</span></td><td class="c12"><span class="sx"><i>1</i>05</span></td><td class="c13"><span class="sx"><i>1</i>69</span></td></tr>
<tr class="g"><td class="c0 dn"><span class="sx"><i>1</i>50</span></td><td class="c1"><span class="sx">350</span></td><td class="c2"><span class="sx">300</span></td><td class="c3"><span class="sx">250</span></td><td class="c4"><span class="sx">2<i>1</i>8</span></td><td class="c5"><span class="sx">30</span></td><td class="c6"><span class="sx">3</span></td><td class="c7"><span class="sx">8<span class="d">–</span>25</span></td><td class="c8"><span class="sx">676</span></td><td class="c9"><span class="sx">847</span></td><td class="c10"><span class="sx">966</span></td><td class="c11"><span class="sx">360</span></td><td class="c12"><span class="sx"><i>1</i>3<i>1</i></span></td><td class="c13"><span class="sx"><i>1</i>85</span></td></tr>
<tr class=""><td class="c0 dn"><span class="sx">200</span></td><td class="c1"><span class="sx">400</span></td><td class="c2"><span class="sx">360</span></td><td class="c3"><span class="sx">3<i>1</i>0</span></td><td class="c4"><span class="sx">278</span></td><td class="c5"><span class="sx">34</span></td><td class="c6"><span class="sx">3</span></td><td class="c7"><span class="sx"><i>1</i>2<span class="d">–</span>25</span></td><td class="c8"><span class="sx">820</span></td><td class="c9"><span class="sx"><i>1</i>039</span></td><td class="c10"><span class="sx"><i>1</i><i>1</i>00</span></td><td class="c11"><span class="sx">400</span></td><td class="c12"><span class="sx">2<i>1</i>5</span></td><td class="c13"><span class="sx">280</span></td></tr>
<tr class="g"><td class="c0 dn"><span class="sx">250</span></td><td class="c1"><span class="sx">450</span></td><td class="c2"><span class="sx">425</span></td><td class="c3"><span class="sx">370</span></td><td class="c4"><span class="sx">332</span></td><td class="c5"><span class="sx">36</span></td><td class="c6"><span class="sx">3</span></td><td class="c7"><span class="sx"><i>1</i>2<span class="d">–</span>30</span></td><td class="c8"><span class="sx">969</span></td><td class="c9"><span class="sx"><i>1</i>245</span></td><td class="c10"><span class="sx"><i>1</i>220</span></td><td class="c11"><span class="sx">450</span></td><td class="c12"><span class="sx">295</span></td><td class="c13"><span class="sx">350</span></td></tr>
<tr class=""><td class="c0 dn"><span class="sx">300</span></td><td class="c1"><span class="sx">500</span></td><td class="c2"><span class="sx">485</span></td><td class="c3"><span class="sx">430</span></td><td class="c4"><span class="sx">390</span></td><td class="c5"><span class="sx">40</span></td><td class="c6"><span class="sx">4</span></td><td class="c7"><span class="sx"><i>1</i>6<span class="d">–</span>30</span></td><td class="c8"><span class="sx"><i>1</i><i>1</i>42</span></td><td class="c9"><span class="sx"><i>1</i>472</span></td><td class="c10"><span class="sx"><i>1</i>527</span></td><td class="c11"><span class="sx">500</span></td><td class="c12"><span class="sx">4<i>1</i>0</span></td><td class="c13"><span class="sx">5<i>1</i>5</span></td></tr>
<tr class="g"><td class="c0 dn"><span class="sx">350</span></td><td class="c1"><span class="sx">550</span></td><td class="c2"><span class="sx">550</span></td><td class="c3"><span class="sx">490</span></td><td class="c4"><span class="sx">448</span></td><td class="c5"><span class="sx">44</span></td><td class="c6"><span class="sx">4</span></td><td class="c7"><span class="sx"><i>1</i>6<span class="d">–</span>34</span></td><td class="c8"><span class="sx"><i>1</i>280</span></td><td class="c9"><span class="sx"><i>1</i>450</span></td><td class="c10"><span class="sx"><i>1</i>665</span></td><td class="c11"><span class="sx">550</span></td><td class="c12"><span class="sx">560</span></td><td class="c13"><span class="sx">685</span></td></tr>
<tr class=""><td class="c0 dn"><span class="sx">400</span></td><td class="c1"><span class="sx">600</span></td><td class="c2"><span class="sx">6<i>1</i>0</span></td><td class="c3"><span class="sx">550</span></td><td class="c4"><span class="sx">505</span></td><td class="c5"><span class="sx">48</span></td><td class="c6"><span class="sx">4</span></td><td class="c7"><span class="sx"><i>1</i>6<span class="d">–</span>34</span></td><td class="c8"><span class="sx"><i>1</i>452</span></td><td class="c9"><span class="sx"><i>1</i>887</span></td><td class="c10"><span class="sx"><i>1</i>870</span></td><td class="c11"><span class="sx">600</span></td><td class="c12"><span class="sx">7<i>1</i>0</span></td><td class="c13"><span class="sx">842</span></td></tr>
<tr class="g"><td class="c0 dn"><span class="sx">450</span></td><td class="c1"><span class="sx">650</span></td><td class="c2"><span class="sx">660</span></td><td class="c3"><span class="sx">600</span></td><td class="c4"><span class="sx">555</span></td><td class="c5"><span class="sx">50</span></td><td class="c6"><span class="sx">4</span></td><td class="c7"><span class="sx">20<span class="d">–</span>34</span></td><td class="c8"><span class="sx"><i>1</i>54<i>1</i></span></td><td class="c9"><span class="sx">20<i>1</i><i>1</i></span></td><td class="c10"><span class="sx"><i>1</i>946</span></td><td class="c11"><span class="sx">700</span></td><td class="c12"><span class="sx">900</span></td><td class="c13"><span class="sx"><i>1</i>052</span></td></tr>
<tr class=""><td class="c0 dn"><span class="sx">500</span></td><td class="c1"><span class="sx">700</span></td><td class="c2"><span class="sx">730</span></td><td class="c3"><span class="sx">660</span></td><td class="c4"><span class="sx">6<i>1</i>0</span></td><td class="c5"><span class="sx">52</span></td><td class="c6"><span class="sx">4</span></td><td class="c7"><span class="sx">20<span class="d">–</span>4<i>1</i></span></td><td class="c8"><span class="sx"><i>1</i>676</span></td><td class="c9"><span class="sx">2<i>1</i>8<i>1</i></span></td><td class="c10"><span class="sx">2<i>1</i>90</span></td><td class="c11"><span class="sx">700</span></td><td class="c12"><span class="sx"><i>1</i>200</span></td><td class="c13"><span class="sx"><i>1</i>445</span></td></tr>
<tr class="g"><td class="c0 dn"><span class="sx">600</span></td><td class="c1"><span class="sx">800</span></td><td class="c2"><span class="sx">840</span></td><td class="c3"><span class="sx">770</span></td><td class="c4"><span class="sx">7<i>1</i>8</span></td><td class="c5"><span class="sx">56</span></td><td class="c6"><span class="sx">5</span></td><td class="c7"><span class="sx">20<span class="d">–</span>4<i>1</i></span></td><td class="c8"><span class="sx">2000</span></td><td class="c9"><span class="sx">2600</span></td><td class="c10"><span class="sx">25<i>1</i>0</span></td><td class="c11"><span class="sx">800</span></td><td class="c12"><span class="sx"><i>1</i>700</span></td><td class="c13"><span class="sx">2<i>1</i>80</span></td></tr>
</tbody></table>
</body></html>
